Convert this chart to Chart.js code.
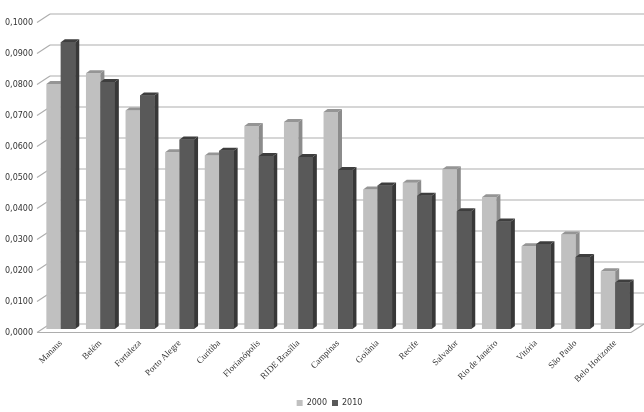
<!DOCTYPE html>
<html>
<head>
<meta charset="utf-8">
<script src="https://cdn.jsdelivr.net/npm/chart.js@4"></script>
<style>
html,body{margin:0;padding:0;background:#fff;}
#wrap{width:644px;height:412px;position:relative;}
</style>
</head>
<body>
<div id="wrap"><canvas id="c" width="644" height="412"></canvas></div>
<script>
const categories = ['Manaus','Belém','Fortaleza','Porto Alegre','Curitiba','Florianópolis','RIDE Brasília','Campinas','Goiânia','Recife','Salvador','Rio de Janeiro','Vitória','São Paulo','Belo Horizonte'];
const values2000 = [0.0790,0.0825,0.0705,0.0570,0.0560,0.0655,0.0668,0.0700,0.0450,0.0472,0.0515,0.0425,0.0267,0.0305,0.0186];
const values2010 = [0.0925,0.0797,0.0753,0.0611,0.0575,0.0558,0.0555,0.0513,0.0463,0.0430,0.0380,0.0347,0.0273,0.0232,0.0150];
const seriesNames = ['2000','2010'];
const yMin = 0, yMax = 0.1, yStep = 0.01;

const FX = -4, FY = 3.5;   // front plane offset
const BX = 9,  BY = -5;    // back wall offset
const DX = 4,  DY = -3;    // bar depth

const faceColors = [
  {side:'#8c8c8c', top:'#959595'},
  {side:'#383838', top:'#3e3e3e'}
];

function drawFaces(ctx, meta, col){
  meta.data.forEach(bar => {
    const p = bar.getProps(['x','y','base','width'], true);
    const l = p.x - p.width/2, r = p.x + p.width/2;
    ctx.fillStyle = col.side;
    ctx.beginPath();
    ctx.moveTo(r, p.y);
    ctx.lineTo(r + DX, p.y + DY);
    ctx.lineTo(r + DX, p.base + DY);
    ctx.lineTo(r, p.base);
    ctx.closePath();
    ctx.fill();
    ctx.fillStyle = col.top;
    ctx.beginPath();
    ctx.moveTo(l, p.y);
    ctx.lineTo(l + DX, p.y + DY);
    ctx.lineTo(r + DX, p.y + DY);
    ctx.lineTo(r, p.y);
    ctx.closePath();
    ctx.fill();
  });
}

const threeD = {
  id:'threeD',
  afterLayout(chart){
    const lg = chart.legend;
    if (lg) { lg.left += 12; lg.right += 12; lg.top += 5; lg.bottom += 5; }
  },
  beforeDatasetsDraw(chart){
    const {ctx, chartArea:a, scales:{y}} = chart;
    ctx.save();
    const y0 = y.getPixelForValue(0);
    ctx.strokeStyle = '#adadad';
    ctx.lineWidth = 1.1;
    y.ticks.forEach(t => {
      const py = y.getPixelForValue(t.value);
      ctx.beginPath();
      ctx.moveTo(a.left + BX, py + BY);
      ctx.lineTo(a.right + BX, py + BY);
      ctx.stroke();
      ctx.beginPath();
      ctx.moveTo(a.left + FX, py + FY);
      ctx.lineTo(a.left + BX, py + BY);
      ctx.stroke();
    });
    ctx.beginPath();
    ctx.moveTo(a.left + FX, y0 + FY);
    ctx.lineTo(a.right + FX, y0 + FY);
    ctx.lineTo(a.right + BX, y0 + BY);
    ctx.stroke();
    ctx.restore();
  },
  afterDatasetsDraw(chart){
    const ctx = chart.ctx;
    ctx.save();
    const m0 = chart.getDatasetMeta(0), m1 = chart.getDatasetMeta(1);
    drawFaces(ctx, m0, faceColors[0]);
    m1.data.forEach(el => el.draw(ctx, chart.chartArea));
    drawFaces(ctx, m1, faceColors[1]);
    ctx.restore();
  }
};

const AREA_BOTTOM = 329;
new Chart(document.getElementById('c'), {
  type:'bar',
  data:{
    labels:categories,
    datasets:[
      {label:seriesNames[0], data:values2000, backgroundColor:'#c0c0c0', barPercentage:1, categoryPercentage:0.73},
      {label:seriesNames[1], data:values2010, backgroundColor:'#595959', barPercentage:1, categoryPercentage:0.73}
    ]
  },
  options:{
    responsive:false,
    animation:false,
    devicePixelRatio:1,
    layout:{padding:{left:0, right:9, top:19, bottom:0}},
    plugins:{
      tooltip:{enabled:false},
      legend:{
        position:'bottom',
        labels:{
          boxWidth:6, boxHeight:6, padding:5,
          color:'#333',
          font:{family:'DejaVu Sans', size:8}
        }
      }
    },
    scales:{
      x:{
        grid:{display:false, drawTicks:false},
        border:{display:false},
        ticks:{
          autoSkip:false, maxRotation:45, minRotation:45, padding:9,
          color:'#333', font:{family:'Liberation Serif', size:9}
        },
        afterFit(scale){
          const lg = scale.chart.legend;
          const lh = lg ? lg.height : 0;
          scale.height = 412 - AREA_BOTTOM - lh;
        }
      },
      y:{
        min:yMin, max:yMax,
        grid:{display:false, drawTicks:false},
        border:{display:false},
        ticks:{
          stepSize:yStep, padding:8, labelOffset:3.5,
          color:'#333', font:{family:'DejaVu Sans', size:8},
          callback:(v)=>Number(v).toFixed(4).replace('.',',')
        },
        afterFit(scale){ scale.width = 41; }
      }
    }
  },
  plugins:[threeD]
});
</script>
</body>
</html>
